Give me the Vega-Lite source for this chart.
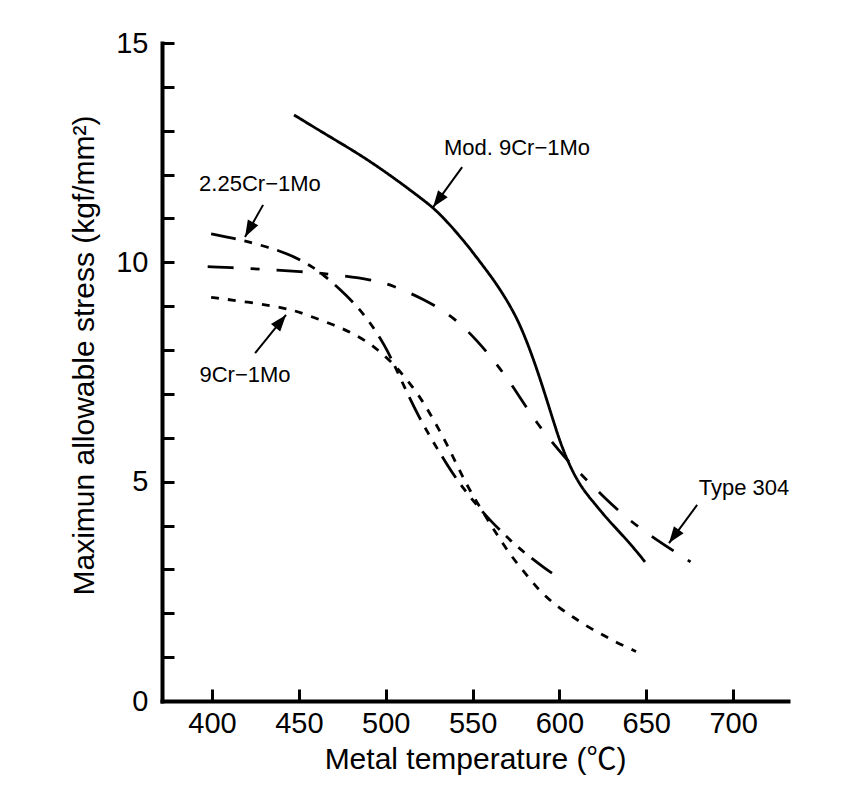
{
  "$schema": "https://vega.github.io/schema/vega-lite/v6.json",
  "width": 626,
  "height": 658,
  "autosize": {"type": "none"},
  "padding": {"left": 162, "top": 43, "right": 72, "bottom": 92},
  "background": "white",
  "config": {
    "view": {"stroke": null},
    "font": "Liberation Sans, Noto Sans CJK JP",
    "axis": {
      "domainColor": "black",
      "tickColor": "black",
      "labelColor": "black",
      "titleColor": "black",
      "labelFont": "Liberation Sans, Noto Sans CJK JP",
      "titleFont": "Liberation Sans, Noto Sans CJK JP",
      "titleFontWeight": "normal"
    }
  },
  "datasets": {
    "curves": [
      {"series": "Mod. 9Cr-1Mo", "T": 447.2, "S": 13.36},
      {"series": "Mod. 9Cr-1Mo", "T": 467.9, "S": 12.86},
      {"series": "Mod. 9Cr-1Mo", "T": 487.1, "S": 12.41},
      {"series": "Mod. 9Cr-1Mo", "T": 506.3, "S": 11.88},
      {"series": "Mod. 9Cr-1Mo", "T": 521.7, "S": 11.42},
      {"series": "Mod. 9Cr-1Mo", "T": 530.3, "S": 11.15},
      {"series": "Mod. 9Cr-1Mo", "T": 544.7, "S": 10.51},
      {"series": "Mod. 9Cr-1Mo", "T": 554.3, "S": 10.01},
      {"series": "Mod. 9Cr-1Mo", "T": 563.9, "S": 9.51},
      {"series": "Mod. 9Cr-1Mo", "T": 573.5, "S": 8.89},
      {"series": "Mod. 9Cr-1Mo", "T": 579.2, "S": 8.40},
      {"series": "Mod. 9Cr-1Mo", "T": 585.0, "S": 7.80},
      {"series": "Mod. 9Cr-1Mo", "T": 590.8, "S": 7.11},
      {"series": "Mod. 9Cr-1Mo", "T": 595.6, "S": 6.50},
      {"series": "Mod. 9Cr-1Mo", "T": 600.4, "S": 5.90},
      {"series": "Mod. 9Cr-1Mo", "T": 605.2, "S": 5.43},
      {"series": "Mod. 9Cr-1Mo", "T": 610.0, "S": 5.05},
      {"series": "Mod. 9Cr-1Mo", "T": 614.8, "S": 4.76},
      {"series": "Mod. 9Cr-1Mo", "T": 620.5, "S": 4.49},
      {"series": "Mod. 9Cr-1Mo", "T": 627.3, "S": 4.16},
      {"series": "Mod. 9Cr-1Mo", "T": 634.9, "S": 3.84},
      {"series": "Mod. 9Cr-1Mo", "T": 642.6, "S": 3.50},
      {"series": "Mod. 9Cr-1Mo", "T": 649.3, "S": 3.17},

      {"series": "2.25Cr-1Mo", "T": 399.5, "S": 10.65},
      {"series": "2.25Cr-1Mo", "T": 413.0, "S": 10.54},
      {"series": "2.25Cr-1Mo", "T": 419.0, "S": 10.49},
      {"series": "2.25Cr-1Mo", "T": 440.0, "S": 10.26},
      {"series": "2.25Cr-1Mo", "T": 450.7, "S": 10.06},
      {"series": "2.25Cr-1Mo", "T": 458.0, "S": 9.89},
      {"series": "2.25Cr-1Mo", "T": 464.0, "S": 9.72},
      {"series": "2.25Cr-1Mo", "T": 474.7, "S": 9.35},
      {"series": "2.25Cr-1Mo", "T": 481.0, "S": 9.10},
      {"series": "2.25Cr-1Mo", "T": 487.0, "S": 8.83},
      {"series": "2.25Cr-1Mo", "T": 492.7, "S": 8.53},
      {"series": "2.25Cr-1Mo", "T": 499.5, "S": 8.10},
      {"series": "2.25Cr-1Mo", "T": 503.5, "S": 7.78},
      {"series": "2.25Cr-1Mo", "T": 508.2, "S": 7.38},
      {"series": "2.25Cr-1Mo", "T": 513.1, "S": 6.96},
      {"series": "2.25Cr-1Mo", "T": 518.8, "S": 6.50},
      {"series": "2.25Cr-1Mo", "T": 524.5, "S": 6.10},
      {"series": "2.25Cr-1Mo", "T": 529.4, "S": 5.77},
      {"series": "2.25Cr-1Mo", "T": 535.0, "S": 5.41},
      {"series": "2.25Cr-1Mo", "T": 540.9, "S": 5.05},
      {"series": "2.25Cr-1Mo", "T": 546.6, "S": 4.75},
      {"series": "2.25Cr-1Mo", "T": 552.4, "S": 4.47},
      {"series": "2.25Cr-1Mo", "T": 560.0, "S": 4.12},
      {"series": "2.25Cr-1Mo", "T": 567.7, "S": 3.82},
      {"series": "2.25Cr-1Mo", "T": 573.9, "S": 3.58},
      {"series": "2.25Cr-1Mo", "T": 581.5, "S": 3.33},
      {"series": "2.25Cr-1Mo", "T": 592.7, "S": 2.99},
      {"series": "2.25Cr-1Mo", "T": 598.3, "S": 2.85},

      {"series": "9Cr-1Mo", "T": 399.5, "S": 9.20},
      {"series": "9Cr-1Mo", "T": 421.9, "S": 9.09},
      {"series": "9Cr-1Mo", "T": 443.0, "S": 8.95},
      {"series": "9Cr-1Mo", "T": 450.7, "S": 8.86},
      {"series": "9Cr-1Mo", "T": 471.8, "S": 8.55},
      {"series": "9Cr-1Mo", "T": 480.0, "S": 8.40},
      {"series": "9Cr-1Mo", "T": 489.0, "S": 8.20},
      {"series": "9Cr-1Mo", "T": 495.0, "S": 8.02},
      {"series": "9Cr-1Mo", "T": 502.5, "S": 7.76},
      {"series": "9Cr-1Mo", "T": 509.0, "S": 7.48},
      {"series": "9Cr-1Mo", "T": 515.3, "S": 7.17},
      {"series": "9Cr-1Mo", "T": 521.0, "S": 6.85},
      {"series": "9Cr-1Mo", "T": 525.5, "S": 6.55},
      {"series": "9Cr-1Mo", "T": 530.5, "S": 6.20},
      {"series": "9Cr-1Mo", "T": 535.0, "S": 5.87},
      {"series": "9Cr-1Mo", "T": 541.0, "S": 5.38},
      {"series": "9Cr-1Mo", "T": 546.0, "S": 4.98},
      {"series": "9Cr-1Mo", "T": 551.4, "S": 4.60},
      {"series": "9Cr-1Mo", "T": 562.0, "S": 3.92},
      {"series": "9Cr-1Mo", "T": 567.4, "S": 3.59},
      {"series": "9Cr-1Mo", "T": 572.6, "S": 3.29},
      {"series": "9Cr-1Mo", "T": 578.9, "S": 2.98},
      {"series": "9Cr-1Mo", "T": 585.0, "S": 2.68},
      {"series": "9Cr-1Mo", "T": 591.7, "S": 2.39},
      {"series": "9Cr-1Mo", "T": 600.0, "S": 2.12},
      {"series": "9Cr-1Mo", "T": 608.0, "S": 1.91},
      {"series": "9Cr-1Mo", "T": 616.3, "S": 1.69},
      {"series": "9Cr-1Mo", "T": 625.3, "S": 1.50},
      {"series": "9Cr-1Mo", "T": 633.0, "S": 1.33},
      {"series": "9Cr-1Mo", "T": 644.1, "S": 1.13},

      {"series": "Type 304", "T": 397.5, "S": 9.90},
      {"series": "Type 304", "T": 411.3, "S": 9.88},
      {"series": "Type 304", "T": 425.7, "S": 9.85},
      {"series": "Type 304", "T": 452.6, "S": 9.79},
      {"series": "Type 304", "T": 468.0, "S": 9.73},
      {"series": "Type 304", "T": 492.9, "S": 9.60},
      {"series": "Type 304", "T": 503.5, "S": 9.48},
      {"series": "Type 304", "T": 521.7, "S": 9.17},
      {"series": "Type 304", "T": 539.0, "S": 8.76},
      {"series": "Type 304", "T": 552.4, "S": 8.23},
      {"series": "Type 304", "T": 564.8, "S": 7.64},
      {"series": "Type 304", "T": 575.4, "S": 7.05},
      {"series": "Type 304", "T": 586.0, "S": 6.37},
      {"series": "Type 304", "T": 604.2, "S": 5.49},
      {"series": "Type 304", "T": 615.7, "S": 5.04},
      {"series": "Type 304", "T": 625.3, "S": 4.66},
      {"series": "Type 304", "T": 639.7, "S": 4.13},
      {"series": "Type 304", "T": 656.0, "S": 3.67},
      {"series": "Type 304", "T": 675.5, "S": 3.17}
    ],
    "labels": [
      {"label": "2.25Cr−1Mo", "T": 427.6, "S": 11.78},
      {"label": "9Cr−1Mo", "T": 419.0, "S": 7.43},
      {"label": "Mod. 9Cr−1Mo", "T": 575.6, "S": 12.61},
      {"label": "Type 304", "T": 706.3, "S": 4.86}
    ],
    "arrows": [
      {"label": "2.25Cr-1Mo", "T": 419.0, "S": 10.58, "T0": 429.4, "S0": 11.31},
      {"label": "9Cr-1Mo", "T": 442.6, "S": 8.80, "T0": 424.8, "S0": 7.93},
      {"label": "Mod. 9Cr-1Mo", "T": 527.3, "S": 11.26, "T0": 544.0, "S0": 12.17},
      {"label": "Type 304", "T": 663.1, "S": 3.60, "T0": 679.3, "S0": 4.47}
    ]
  },
  "encoding": {
    "x": {
      "field": "T",
      "type": "quantitative",
      "scale": {"domain": [371.2, 731.6], "nice": false, "zero": false},
      "axis": {
        "values": [400, 450, 500, 550, 600, 650, 700],
        "title": "Metal temperature (℃)",
        "titleFontSize": 30,
        "titlePadding": 6,
        "labelFontSize": 29,
        "labelPadding": 20,
        "labelFlush": false,
        "labelOverlap": false,
        "tickSize": -12,
        "tickWidth": 3,
        "domainWidth": 4,
        "domainCap": "square",
        "grid": false
      }
    },
    "y": {
      "field": "S",
      "type": "quantitative",
      "scale": {"domain": [0, 15], "nice": false, "zero": true},
      "axis": {
        "values": [0, 1, 2, 3, 4, 5, 6, 7, 8, 9, 10, 11, 12, 13, 14, 15],
        "labelExpr": "datum.value % 5 === 0 ? datum.label : ''",
        "title": "Maximun allowable stress (kgf/mm²)",
        "titleFontSize": 30,
        "titlePadding": 16,
        "titleY": 312,
        "labelFontSize": 29,
        "labelPadding": 26,
        "labelFlush": false,
        "labelOverlap": false,
        "tickSize": -12,
        "tickWidth": 3,
        "domainWidth": 4,
        "domainCap": "square",
        "grid": false
      }
    }
  },
  "layer": [
    {
      "data": {"name": "curves"},
      "mark": {"type": "line", "interpolate": "basis", "color": "black", "strokeWidth": 2.8},
      "encoding": {
        "detail": {"field": "series"},
        "strokeDash": {
          "field": "series",
          "type": "nominal",
          "scale": {
            "domain": ["Mod. 9Cr-1Mo", "2.25Cr-1Mo", "9Cr-1Mo", "Type 304"],
            "range": [[1, 0], [25, 9, 8, 9, 8, 9], [8, 9], [26, 17, 9, 17]]
          },
          "legend": null
        }
      }
    },
    {
      "data": {"name": "arrows"},
      "mark": {"type": "rule", "color": "black", "strokeWidth": 2},
      "encoding": {
        "x2": {"field": "T0"},
        "y2": {"field": "S0"}
      }
    },
    {
      "data": {"name": "arrows"},
      "transform": [{"filter": "datum.label === '2.25Cr-1Mo'"}],
      "mark": {"type": "point", "shape": "M0,0 L0.36,1 L-0.36,1 Z", "size": 1100, "filled": true, "color": "black", "opacity": 1, "strokeWidth": 0, "angle": 209},
      "encoding": {}
    },
    {
      "data": {"name": "arrows"},
      "transform": [{"filter": "datum.label === '9Cr-1Mo'"}],
      "mark": {"type": "point", "shape": "M0,0 L0.36,1 L-0.36,1 Z", "size": 1100, "filled": true, "color": "black", "opacity": 1, "strokeWidth": 0, "angle": 39},
      "encoding": {}
    },
    {
      "data": {"name": "arrows"},
      "transform": [{"filter": "datum.label === 'Mod. 9Cr-1Mo'"}],
      "mark": {"type": "point", "shape": "M0,0 L0.36,1 L-0.36,1 Z", "size": 1100, "filled": true, "color": "black", "opacity": 1, "strokeWidth": 0, "angle": 216},
      "encoding": {}
    },
    {
      "data": {"name": "arrows"},
      "transform": [{"filter": "datum.label === 'Type 304'"}],
      "mark": {"type": "point", "shape": "M0,0 L0.36,1 L-0.36,1 Z", "size": 1100, "filled": true, "color": "black", "opacity": 1, "strokeWidth": 0, "angle": 216},
      "encoding": {}
    },
    {
      "data": {"name": "labels"},
      "mark": {"type": "text", "fontSize": 22, "align": "center", "baseline": "middle", "color": "black", "font": "Liberation Sans, Noto Sans CJK JP"},
      "encoding": {"text": {"field": "label"}}
    }
  ]
}
